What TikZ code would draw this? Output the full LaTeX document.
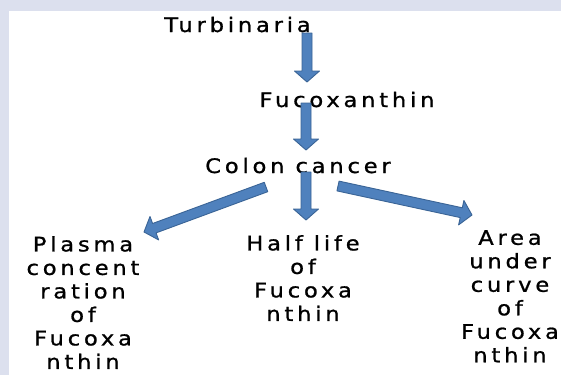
\documentclass[tikz,border=0pt]{standalone}
\usepackage{fontspec}
\newfontfamily\lblfont[FakeStretch=1.13,LetterSpace=19,FakeBold=1]{DejaVu Sans}
\usetikzlibrary{calc}
\definecolor{bordergray}{HTML}{DCE0EE}
\definecolor{arrfill}{HTML}{4F81BD}
\definecolor{arrline}{HTML}{3A6496}
\tikzset{
  lbl/.style={inner sep=0pt, align=center, font=\lblfont\fontsize{20pt}{23.5pt}\selectfont, text=black},
  blockarr/.style={fill=arrfill, draw=arrline, line width=0.9pt, line join=round}
}
\newcommand\blockarrow[2]{%
  \coordinate (hb) at ($(#2)!11pt!(#1)$);
  \draw[blockarr] ($(#1)!5pt!90:(#2)$) -- ($(hb)!5pt!90:(#2)$) -- ($(hb)!12.5pt!90:(#2)$) -- (#2) -- ($(hb)!12.5pt!-90:(#2)$) -- ($(hb)!5pt!-90:(#2)$) -- ($(#1)!5pt!-90:(#2)$) -- cycle;}
\begin{document}
\begin{tikzpicture}[x=1pt,y=-1pt]
\useasboundingbox (0,0) rectangle (561,375);
\fill[bordergray] (0,0) rectangle (561,375);
\fill[white] (9,10.5) rectangle (561,375);
% texts
\node[lbl, anchor=base] (turb) at (237.5,32) {Turbinaria};
\node[lbl, anchor=base] (fuco) at (347,107) {Fucoxanthin};
\node[lbl, anchor=base] (colon) at (298,173) {Colon cancer};
\node[lbl, anchor=north] (plasma) at (83,236) {Plasma\\concent\\ration\\of\\Fucoxa\\nthin};
\node[lbl, anchor=north] (half) at (303,235) {Half life\\of\\Fucoxa\\nthin};
\node[lbl, anchor=north] (area) at (510,230) {Area\\under\\curve\\of\\Fucoxa\\nthin};
% arrow ends
\coordinate (t1) at (307,33);  \coordinate (e1) at (307,82);
\coordinate (t2) at (306,103); \coordinate (e2) at (306,150);
\coordinate (t3) at (306,172); \coordinate (e3) at (306,220);
\coordinate (tl) at (266,187); \coordinate (el) at (144,232);
\coordinate (tr) at (338,186); \coordinate (er) at (472,215);
\blockarrow{t1}{e1}
\blockarrow{t2}{e2}
\blockarrow{t3}{e3}
\blockarrow{tl}{el}
\blockarrow{tr}{er}
\end{tikzpicture}
\end{document}
